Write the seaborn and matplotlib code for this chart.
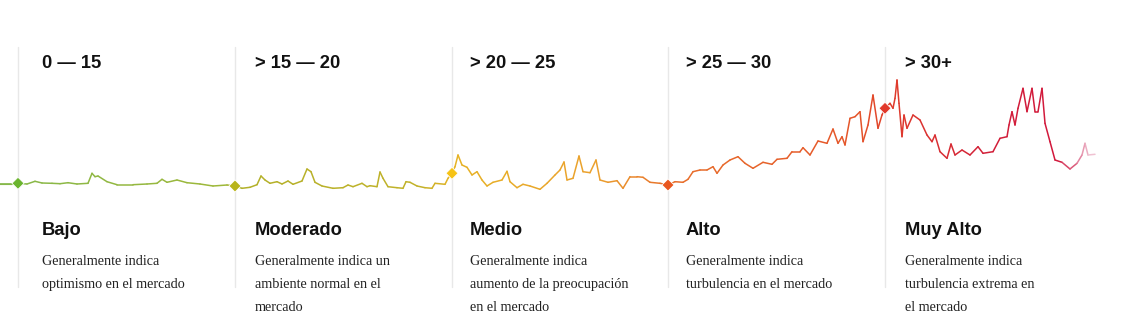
import numpy as np
import pandas as pd
import matplotlib
matplotlib.use("Agg")
import matplotlib.pyplot as plt
import seaborn as sns
from matplotlib.collections import LineCollection
from matplotlib.colors import LinearSegmentedColormap

# ---- data ----
dia = [0, 12, 18, 27, 35, 42, 52, 60, 68, 77, 88, 92, 95, 98, 107, 117, 133, 147, 157, 162,
       167, 177, 187, 200, 213, 227, 235, 242, 250, 257, 261, 265, 270, 277, 282, 288, 293, 302,
       307, 311, 315, 322, 333, 343, 348, 353, 362, 367, 370, 377, 380, 383, 388, 397, 403, 406,
       410, 417, 425, 432, 435, 445, 448, 452, 455, 458, 462, 467, 472, 477, 482, 487, 493, 502,
       507, 510, 517, 523, 530, 540, 547, 555, 560, 564, 567, 573, 579, 583, 590, 596, 600, 608,
       617, 623, 630, 637, 643, 650, 660, 668, 675, 683, 688, 693, 700, 707, 713, 717, 723, 730,
       738, 745, 753, 763, 772, 777, 787, 792, 800, 803, 810, 818, 827, 833, 838, 842, 845, 850,
       855, 860, 863, 868, 873, 878, 882, 885, 890, 893, 895, 897, 899, 902, 904, 907, 913, 920,
       927, 932, 935, 940, 947, 951, 955, 962, 970, 978, 983, 993, 1000, 1007, 1009, 1012, 1015,
       1018, 1023, 1027, 1032, 1035, 1038, 1042, 1045, 1050, 1055, 1062, 1070, 1077, 1082, 1085,
       1088, 1095]
nivel = [15.7, 15.7, 16.7, 16.0, 18.7, 17.0, 16.7, 16.3, 17.3, 16.0, 16.7, 26.7, 23.3, 24.0, 18.3,
         15.3, 15.3, 16.0, 16.7, 20.7, 17.7, 20.0, 17.3, 16.0, 14.0, 15.0, 14.0, 11.7, 12.7, 15.3,
         24.0, 20.0, 16.7, 18.3, 16.0, 19.0, 15.7, 19.0, 31.0, 28.3, 17.7, 14.0, 11.7, 12.3, 15.0,
         13.3, 16.7, 13.3, 14.3, 13.3, 28.0, 21.7, 13.3, 12.3, 11.7, 18.3, 17.7, 14.0, 12.3, 11.7,
         16.7, 15.7, 21.7, 26.7, 33.3, 45.0, 35.0, 32.7, 25.0, 28.3, 20.0, 14.0, 17.7, 20.0, 28.7,
         18.3, 12.3, 15.7, 14.0, 10.7, 16.7, 25.0, 30.0, 38.0, 20.0, 21.7, 44.0, 28.3, 27.3, 40.0,
         20.0, 17.7, 19.3, 11.7, 23.3, 23.3, 22.7, 17.7, 16.7, 15.0, 18.3, 17.7, 20.7, 28.3, 30.0,
         30.0, 33.3, 26.7, 35.0, 40.0, 43.3, 36.7, 31.7, 37.7, 35.7, 40.7, 41.7, 48.3, 48.3, 52.3,
         45.0, 59.0, 56.7, 71.0, 56.7, 63.3, 55.0, 81.7, 83.3, 88.3, 58.3, 75.0, 105.0, 71.7, 85.0,
         91.7, 96.7, 91.7, 101.7, 120.0, 96.7, 63.3, 85.0, 71.7, 85.0, 80.0, 65.0, 58.3, 65.0, 48.3,
         41.7, 56.0, 45.0, 50.0, 45.0, 53.3, 46.7, 48.3, 61.7, 63.3, 75.0, 88.3, 75.0, 91.7, 111.7,
         88.3, 111.7, 88.3, 88.3, 111.7, 76.7, 58.3, 40.0, 37.7, 31.0, 36.7, 45.0, 56.7, 45.0, 45.7]

umbral_dia = [18, 235, 452, 668, 885]
rangos = ["0 \u2014 15", "> 15 \u2014 20", "> 20 \u2014 25", "> 25 \u2014 30", "> 30+"]
niveles = ["Bajo", "Moderado", "Medio", "Alto", "Muy Alto"]
descripciones = [
    ["Generalmente indica", "optimismo en el mercado"],
    ["Generalmente indica un", "ambiente normal en el", "mercado"],
    ["Generalmente indica", "aumento de la preocupación", "en el mercado"],
    ["Generalmente indica", "turbulencia en el mercado"],
    ["Generalmente indica", "turbulencia extrema en", "el mercado"],
]

# ---- styles ----
diamond_colors = ["#6ab42e", "#b8b41c", "#f6c315", "#e9571f", "#e1382a"]
grad_stops = [(0, "#86b84a"), (225, "#9fb83a"), (240, "#b3b12a"), (420, "#c2b22a"),
              (452, "#e6b325"), (600, "#eba02e"), (668, "#e8712c"), (860, "#e5552a"),
              (890, "#e03d2c"), (990, "#d2203a"), (1060, "#d2183c"), (1080, "#e07a98"),
              (1095, "#f0c2d2")]
text_x = [42, 255, 470, 686, 905]
W, H = 1127, 332

df = pd.DataFrame({"dia": dia, "nivel": nivel})

sns.set_theme(style="white")
plt.rcParams["font.family"] = ["Liberation Sans", "DejaVu Sans"]

fig = plt.figure(figsize=(W / 100, H / 100), dpi=100)
ax = fig.add_axes([0, 0, 1, 1])
ax.set_xlim(0, W)
ax.set_ylim(-132, 200)
ax.axis("off")

# separators
for xs in umbral_dia:
    ax.axvline(xs, ymin=(H - 287) / H, ymax=(H - 47) / H, color="#e8e8e8", lw=1.0, zorder=1)

# gradient line
pts = df[["dia", "nivel"]].to_numpy()
segs = np.stack([pts[:-1], pts[1:]], axis=1)
cmap = LinearSegmentedColormap.from_list(
    "vix", [(p / 1095, c) for p, c in grad_stops])
mid = (pts[:-1, 0] + pts[1:, 0]) / 2 / 1095
lc = LineCollection(segs, colors=cmap(mid), linewidths=1.1, capstyle="round",
                    joinstyle="round", zorder=3)
ax.add_collection(lc)
# flat lead-in also as seaborn line (first points) for the library's scales
sns.lineplot(data=df.iloc[:3], x="dia", y="nivel", ax=ax, color="#86b84a", lw=1.1,
             legend=False, zorder=3)

# diamonds
mk = df[df["dia"].isin(umbral_dia)].copy()
mk["k"] = range(len(mk))
sns.scatterplot(data=mk, x="dia", y="nivel", hue="k", palette=diamond_colors,
                marker="D", s=38, edgecolor="white", linewidth=0.6, ax=ax,
                legend=False, zorder=5)

def fy(ypix):
    return 1 - ypix / H

for i in range(5):
    x = text_x[i] / W
    fig.text(x, fy(68.5), rangos[i], fontsize=13.2, fontweight="bold",
             color="#111111", va="baseline", ha="left")
    fig.text(x, fy(235), niveles[i], fontsize=13.2, fontweight="bold",
             color="#111111", va="baseline", ha="left")
    for j, line in enumerate(descripciones[i]):
        fig.text(x, fy(265 + 23 * j), line, fontsize=10.2,
                 family=["Liberation Serif", "DejaVu Serif"], color="#222222",
                 va="baseline", ha="left")

fig.savefig("out.png", dpi=100, facecolor="white")
